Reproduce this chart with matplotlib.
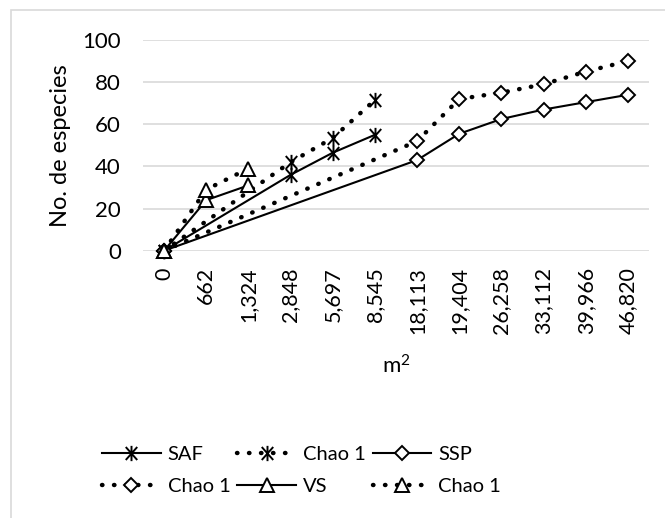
import matplotlib
matplotlib.use("Agg")
import matplotlib.pyplot as plt
from matplotlib.lines import Line2D
from matplotlib.patches import Rectangle
from matplotlib.path import Path
import numpy as np

plt.rcParams['font.family'] = ['Lato', 'DejaVu Sans']
plt.rcParams['mathtext.default'] = 'regular'

areas = ["0", "662", "1,324", "2,848", "5,697", "8,545", "18,113",
         "19,404", "26,258", "33,112", "39,966", "46,820"]

# species counts per sampled area (None = not sampled)
saf = [0, None, None, 36, 46.5, 55, None, None, None, None, None, None]
saf_chao = [0, None, None, 42, 53.5, 71.5, None, None, None, None, None, None]
ssp = [0, None, None, None, None, None, 43, 55.5, 62.5, 67, 70.5, 74]
ssp_chao = [0, None, None, None, None, None, 52, 72, 75, 79, 85, 90]
vs = [0, 24, 31, None, None, None, None, None, None, None, None, None]
vs_chao = [0, 29, 39, None, None, None, None, None, None, None, None, None]

# X with a vertical bar through it
star = Path([(0, -1), (0, 1), (-0.75, -0.85), (0.75, 0.85),
             (-0.75, 0.85), (0.75, -0.85)],
            [Path.MOVETO, Path.LINETO] * 3)

series = [
    ("SAF", saf, "-", star),
    ("Chao 1", saf_chao, ":", star),
    ("SSP", ssp, "-", "D"),
    ("Chao 1", ssp_chao, ":", "D"),
    ("VS", vs, "-", "^"),
    ("Chao 1", vs_chao, ":", "^"),
]

FS = 16

fig = plt.figure(figsize=(6.65, 5.18), dpi=100)
ax = fig.add_axes([143 / 665, 1 - 250.7 / 518, 506 / 665, 210.7 / 518])

# thin grey frame around the chart area
fig.patches.append(Rectangle((11 / 665, -0.1), 1.2, 1 - 10 / 518 + 0.1,
                             transform=fig.transFigure, fill=False,
                             edgecolor="#d9d9d9", linewidth=1.2))

handles = []
for label, values, ls, mk in series:
    x = np.array([i for i, v in enumerate(values) if v is not None])
    y = np.array([v for v in values if v is not None])
    ms = {"D": 7.5, "^": 10.5}.get(mk, 11) if isinstance(mk, str) else 11
    if ls == ":":
        kw = dict(linestyle=(0, (0.1, 2.6)), linewidth=3.2,
                  dash_capstyle="round")
    else:
        kw = dict(linestyle="-", linewidth=1.5)
    ax.plot(x, y, color="black", marker=mk, markersize=ms,
            markerfacecolor="white", markeredgecolor="black",
            markeredgewidth=1.4, clip_on=False, zorder=3, **kw)
    handles.append(Line2D([], [], color="black", marker=mk, markersize=ms,
                          markerfacecolor="white", markeredgecolor="black",
                          markeredgewidth=1.4, label=label, **kw))

ax.set_xlim(-0.5, len(areas) - 0.5)
ax.set_ylim(0, 100)
ax.set_xticks(range(len(areas)))
ax.set_xticklabels(areas, rotation=90, fontsize=15.5)
ax.set_yticks(range(0, 101, 20))
ax.tick_params(axis="y", length=0, pad=16, labelsize=FS)
ax.tick_params(axis="x", length=0, pad=12)
ax.grid(axis="y", color="#d9d9d9", linewidth=1.2)
ax.set_axisbelow(True)
for s in ax.spines.values():
    s.set_visible(False)

ax.set_ylabel("No. de especies", fontsize=17, labelpad=8)
ax.set_xlabel("m$^{2}$", fontsize=FS, labelpad=14)

# legend fills column by column, so reorder to read row by row
order = [0, 3, 1, 4, 2, 5]
fig.legend(handles=[handles[i] for i in order], ncol=3, loc="upper left",
           bbox_to_anchor=(84 / 665, 1 - 428 / 518), frameon=False,
           fontsize=14.5, handlelength=2.9, handletextpad=0.35,
           columnspacing=0.35, labelspacing=0.72)

fig.savefig("out.png", dpi=100)
